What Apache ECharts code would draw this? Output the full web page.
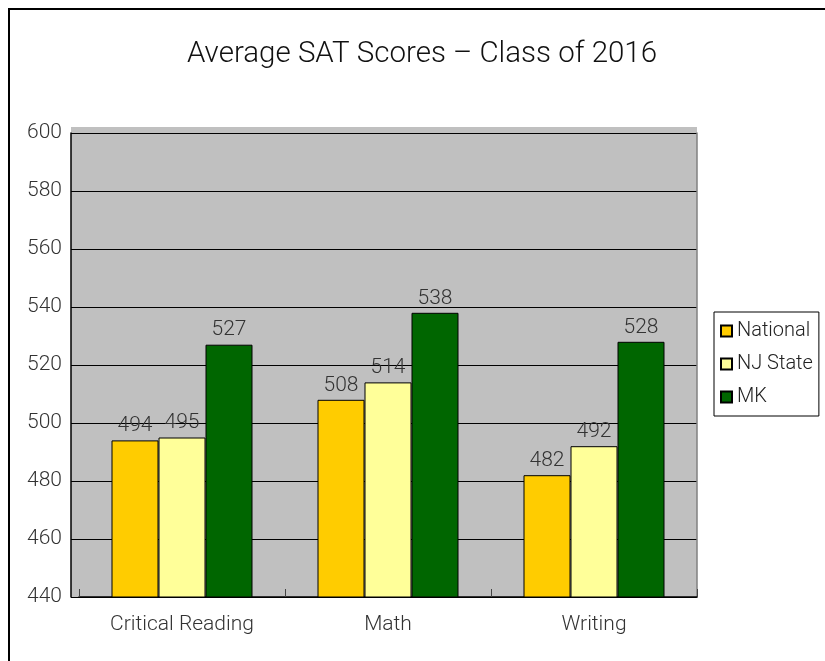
<!DOCTYPE html>
<html><head><meta charset="utf-8">
<script src="https://cdn.jsdelivr.net/npm/echarts@6/dist/echarts.min.js"></script>
<style>
html,body{margin:0;padding:0;background:#fff;}
#frame{position:absolute;left:8px;top:8px;width:830px;height:670px;border-left:2px solid #000;border-top:2px solid #000;}
#c{position:absolute;left:0;top:0;width:825px;height:661px;}
</style></head>
<body>
<div id="frame"></div>
<div id="c"></div>
<script>
const categories = ['Critical Reading', 'Math', 'Writing'];
const national = [494, 508, 482];
const njState = [495, 514, 492];
const mk = [527, 538, 528];
const yTicks = [440, 460, 480, 500, 520, 540, 560, 580, 600];

const font = "Roboto, 'Open Sans', sans-serif";
const chart = echarts.init(document.getElementById('c'));
const mkSeries = (name, data, color) => ({
  name, type: 'bar', data,
  barWidth: 47, barGap: '0%',
  itemStyle: { color, borderColor: '#000', borderWidth: 1 },
  label: { show: true, position: 'top', distance: 4, color: '#333', fontSize: 21, fontWeight: 300, fontFamily: font }
});
chart.setOption({
  animation: false,
  backgroundColor: 'transparent',
  title: {
    text: 'Average SAT Scores – Class of 2016',
    left: 417, top: 35, textAlign: 'center',
    textStyle: { fontSize: 29.5, fontWeight: 300, color: '#111', fontFamily: font }
  },
  legend: {
    orient: 'vertical', left: 714, top: 312,
    padding: [9, 6, 9, 6],
    itemGap: 13,
    borderColor: '#000', borderWidth: 1,
    itemWidth: 11, itemHeight: 11,
    icon: 'rect',
    textStyle: { fontSize: 20, fontWeight: 300, color: '#222', fontFamily: font },
    data: ['National', 'NJ State', 'MK']
  },
  grid: {
    left: 79, right: 128, top: 133, bottom: 64,
    show: false
  },
  graphic: [{
    type: 'rect', z: -1, silent: true,
    shape: { x: 71, y: 127, width: 626, height: 470 },
    style: { fill: '#C0C0C0' }
  }],
  xAxis: {
    type: 'category', data: categories,
    axisLine: { lineStyle: { color: '#000', width: 1.5 } },
    axisTick: { show: true, inside: true, length: 8, lineStyle: { color: '#444' } },
    axisLabel: { fontSize: 21, fontWeight: 300, color: '#333', fontFamily: font, margin: 17 }
  },
  yAxis: [{
    type: 'value', min: yTicks[0], max: yTicks[yTicks.length - 1], interval: 20,
    offset: 8,
    axisLine: { show: true, lineStyle: { color: '#000', width: 1.5 } },
    axisTick: { show: true, inside: true, length: 8, lineStyle: { color: '#000' } },
    axisLabel: { fontSize: 21, fontWeight: 300, color: '#333', fontFamily: font, margin: 9 },
    splitLine: { show: true, lineStyle: { color: '#000', width: 1 } }
  }, {
    type: 'value', position: 'right', min: yTicks[0], max: yTicks[yTicks.length - 1], interval: 20,
    axisLine: { show: true, lineStyle: { color: '#808080', width: 1.5 } },
    axisTick: { show: false }, axisLabel: { show: false }, splitLine: { show: false }
  }],
  series: [
    mkSeries('National', national, '#FFCC00'),
    mkSeries('NJ State', njState, '#FFFF99'),
    mkSeries('MK', mk, '#006600')
  ]
});
</script>
</body></html>
